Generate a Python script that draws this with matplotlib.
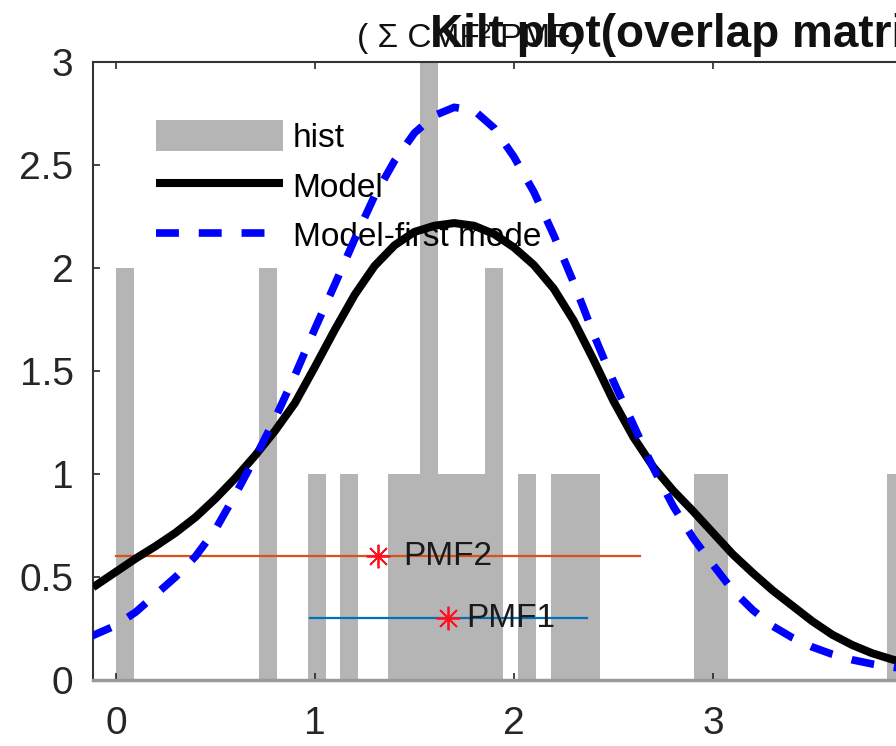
import matplotlib
matplotlib.use("Agg")
import matplotlib.pyplot as plt

plt.rcParams['font.family'] = ['Liberation Sans', 'DejaVu Sans']

# ---- data ----
hist_x = [0.045, 0.766, 1.010, 1.171, 1.412, 1.492, 1.573, 1.653, 1.734, 1.814,
          1.899, 2.065, 2.231, 2.312, 2.387, 2.950, 3.030, 3.920]
hist_counts = [2, 2, 1, 1, 1, 1, 3, 1, 1, 1, 2, 1, 1, 1, 1, 1, 1, 1]

model_x = [-0.115, 0.0, 0.1, 0.2, 0.3, 0.4, 0.5, 0.6, 0.7, 0.8, 0.9, 1.0, 1.1,
           1.2, 1.3, 1.4, 1.5, 1.6, 1.7, 1.8, 1.9, 2.0, 2.1, 2.2, 2.3, 2.4, 2.5,
           2.6, 2.7, 2.8, 2.9, 3.0, 3.1, 3.2, 3.3, 3.4, 3.5, 3.6, 3.7, 3.8, 3.9,
           4.0]
model_y = [0.450, 0.525, 0.590, 0.650, 0.715, 0.790, 0.880, 0.980, 1.090, 1.210,
           1.345, 1.520, 1.700, 1.870, 2.010, 2.110, 2.175, 2.205, 2.218, 2.205,
           2.165, 2.100, 2.015, 1.900, 1.745, 1.555, 1.355, 1.180, 1.035, 0.920,
           0.820, 0.715, 0.610, 0.520, 0.435, 0.360, 0.285, 0.220, 0.170, 0.130,
           0.100, 0.077]

first_x = [-0.13, 0.0, 0.1, 0.2, 0.3, 0.4, 0.5, 0.6, 0.7, 0.8, 0.9, 1.0, 1.1,
           1.2, 1.3, 1.4, 1.5, 1.6, 1.7, 1.8, 1.9, 2.0, 2.1, 2.2, 2.3, 2.4, 2.5,
           2.6, 2.7, 2.8, 2.9, 3.0, 3.1, 3.2, 3.3, 3.4, 3.5, 3.6, 3.7, 3.8, 3.9,
           4.0]
first_y = [0.210, 0.265, 0.330, 0.415, 0.500, 0.600, 0.730, 0.900, 1.080, 1.270,
           1.480, 1.705, 1.920, 2.140, 2.350, 2.520, 2.655, 2.740, 2.780, 2.765,
           2.680, 2.540, 2.370, 2.160, 1.930, 1.680, 1.450, 1.240, 1.030, 0.845,
           0.690, 0.560, 0.435, 0.340, 0.262, 0.205, 0.160, 0.125, 0.098, 0.078,
           0.063, 0.050]

pmf_names = ['PMF1', 'PMF2']
pmf_center = [1.668, 1.317]
pmf_low = [0.975, 0.0]
pmf_high = [2.367, 2.633]
pmf_level = [0.3, 0.6]

xticks = [0, 1, 2, 3, 4]
yticks = [0, 0.5, 1, 1.5, 2, 2.5, 3]
ytick_labels = ['0', '0.5', '1', '1.5', '2', '2.5', '3']

# ---- figure ----
W, H = 896, 746
fig = plt.figure(figsize=(W / 100, H / 100), dpi=100)
x0, x1 = -0.115, 4.3
px_per_unit = 199.0
ax_w = (x1 - x0) * px_per_unit
ax = fig.add_axes([93 / W, (H - 680) / H, ax_w / W, (680 - 62) / H])

h_bar = ax.bar(hist_x, hist_counts, width=0.09, color='#b5b5b5', linewidth=0,
               label='hist', zorder=1)

pmf_colors = ['#0072BD', '#D95319']
for name, c, lo, hi, lv, col, dx in zip(pmf_names, pmf_center, pmf_low, pmf_high,
                                        pmf_level, pmf_colors, [13, 18]):
    ax.plot([lo, hi], [lv, lv], color=col, lw=1.6, zorder=2)
    ax.plot([c], [lv], marker=(8, 2, 0), color='#ff1020', ms=17, mew=1.3,
            linestyle='none', zorder=3)
    ax.annotate(name, xy=(c, lv), xytext=(dx, 0), textcoords='offset points',
                ha='left', va='center', fontsize=24, color='#1a1a1a', zorder=4)

h_model, = ax.plot(model_x, model_y, color='black', lw=5.8, label='Model',
                   zorder=5, solid_capstyle='butt', solid_joinstyle='round')
h_first, = ax.plot(first_x, first_y, color='#0000ff', lw=5.5,
                   linestyle=(0, (3.0, 2.6)), label='Model-first mode',
                   zorder=6, dash_capstyle='butt')

ax.set_xlim(x0, x1)
ax.set_ylim(0, 3)
ax.set_xticks(xticks)
ax.set_yticks(yticks)
ax.set_yticklabels(ytick_labels)
ax.tick_params(direction='in', length=5, width=1.2, labelsize=28,
               colors='#262626', top=True, right=True)
ax.tick_params(axis='y', pad=14)
ax.tick_params(axis='x', pad=19)
for s in ['left', 'top', 'right']:
    ax.spines[s].set_color('#333333')
    ax.spines[s].set_linewidth(1.5)
ax.spines['bottom'].set_color('#9a9a9a')
ax.spines['bottom'].set_linewidth(2.5)

leg = ax.legend(handles=[h_bar, h_model, h_first],
                labels=['hist', 'Model', 'Model-first mode'],
                loc='upper left', bbox_to_anchor=(156 / W, 1 - 120 / H),
                bbox_transform=fig.transFigure, frameon=False, fontsize=24,
                handlelength=3.8, handleheight=1.05, handletextpad=0.3,
                labelspacing=0.48, borderpad=0, borderaxespad=0)
leg.set_zorder(4.5)

fig.text(357 / W, 1 - 47 / H, '( \u03a3 CMF\u00b2 PMF)', fontsize=24,
         ha='left', va='baseline', color='#111111')
fig.text(430 / W, 1 - 47 / H, 'Kilt plot(overlap matrix)', fontsize=33,
         fontweight='bold', ha='left', va='baseline', color='#111111')

fig.savefig('out.png', dpi=100)
